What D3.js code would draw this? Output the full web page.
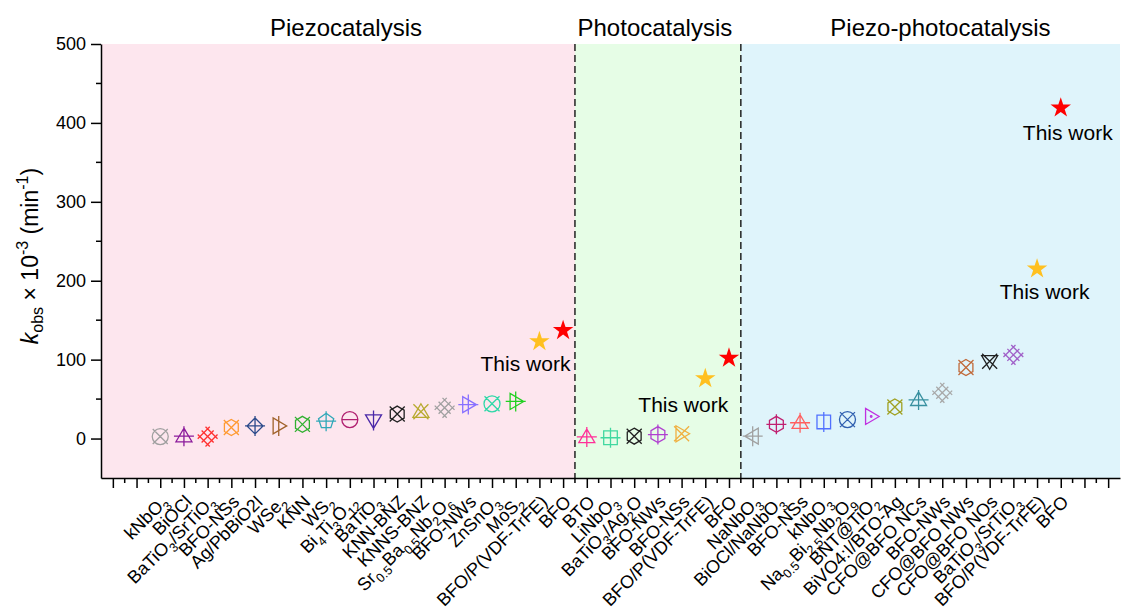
<!DOCTYPE html>
<html lang="en">
<head>
<meta charset="UTF-8">
<title>kobs comparison</title>
<style>
  body, html { margin: 0; background: #fff; overflow: hidden; }
  text { font-family: Arial, "Liberation Sans", sans-serif; fill: #000; }
</style>
</head>
<body>
<div id="chart"></div>
<script src="https://cdn.jsdelivr.net/npm/d3@7"></script>
<script>
// labels use _{..} for subscript
const categories = [
  "kNbO_{3}", "BiOCl", "BaTiO_{3}/SrTiO_{3}", "BFO-NSs", "Ag/PbBiO2I", "WSe_{2}", "KNN", "WS_{2}",
  "Bi_{4}Ti_{3}O_{12}", "BaTiO_{3}", "KNN-BNZ", "KNNS-BNZ", "Sr_{0.5}Ba_{0.5}Nb_{2}O_{6}", "BFO-NWs",
  "ZnSnO_{3}", "MoS_{2}", "BFO/P(VDF-TrFE)", "BFO",
  "BTO", "LiNbO_{3}", "BaTiO_{3}/Ag_{2}O", "BFO-NWs", "BFO-NSs", "BFO/P(VDF-TrFE)", "BFO",
  "NaNbO_{3}", "BiOCl/NaNbO_{3}", "BFO-NSs", "kNbO_{3}", "Na_{0.5}Bi_{2.5}Nb_{2}O_{9}", "BNT@TiO_{2}",
  "BiVO4:I/BTO-Ag", "CFO@BFO NCs", "BFO-NWs", "CFO@BFO NWs", "CFO@BFO NOs", "BaTiO_{3}/SrTiO_{3}",
  "BFO/P(VDF-TrFE)", "BFO"
];
const kobs = [
  2.5, 3, 2.5, 14, 16, 16, 18, 22, 24, 23, 31, 34, 39, 43, 44, 47, 123, 137,
  2, 1, 3, 5, 6, 76, 102,
  3, 18, 20, 21, 24, 28, 40, 49, 58, 90, 98, 106, 215, 419
];
const sections = ["Piezocatalysis", "Photocatalysis", "Piezo-photocatalysis"];
const sectionBounds = [-2.5, 17.5, 24.5, 40.5];
const yTicks = [0, 100, 200, 300, 400, 500];

// marker styles
const shapes = [
  "circle", "triangle", "grid", "hexagon", "diamond", "triR", "hexagon", "pentagon", "circle", "triD",
  "hexagon", "triangle", "grid", "triR", "circle", "triR", "star", "star",
  "triangle", "square", "hexagon", "hexagon", "triR", "star", "star",
  "triL", "hexagon", "triangle", "square", "circle", "triR", "hexagon", "triangle", "grid", "hexagon",
  "triD", "grid", "star", "star"
];
const inner = [
  "x", "+", "", "x", "+", "|", "x", "+", "-", "|", "x", "x", "", "+", "x", "+", "", "",
  "+", "+", "x", "+", "x", "", "",
  "+", "+", "+", "|", "x", "dot", "x", "+", "", "x", "x", "", "", ""
];
const colors = [
  "#a0a0a0", "#8b1a9b", "#ff3030", "#ff9a30", "#2b4a8a", "#a0622a", "#30b030", "#30a8b8", "#b02070", "#4a28a8",
  "#202020", "#b8aa30", "#a0a0a0", "#8870ff", "#30d8a8", "#20d020", "#ffc020", "#ff0000",
  "#ff3098", "#40d8a0", "#202020", "#b040d0", "#f0b040", "#ffc020", "#ff0000",
  "#a0a0a0", "#c02070", "#ff6060", "#5070ff", "#3060b0", "#c030e0", "#a0a020", "#3890a0", "#a8a8a8", "#c06838",
  "#202020", "#a060c8", "#ffc020", "#ff0000"
];
const bgColors = ["#fde6ee", "#e6fde6", "#dff4fb"];

const W = 1126, H = 609;
const margin = { top: 44, right: 6, bottom: 131, left: 101 };

const svg = d3.select("#chart").append("svg").attr("width", W).attr("height", H);

const x = d3.scaleLinear().domain([-2.5, 40.5]).range([margin.left, W - margin.right]);
const y = d3.scaleLinear().domain([-50, 500]).range([H - margin.bottom, margin.top]);

// section backgrounds
sections.forEach((s, i) => {
  svg.append("rect")
    .attr("x", x(sectionBounds[i])).attr("y", y(500))
    .attr("width", x(sectionBounds[i + 1]) - x(sectionBounds[i]))
    .attr("height", y(-50) - y(500))
    .attr("fill", bgColors[i]);
  svg.append("text")
    .attr("x", x((sectionBounds[i] + sectionBounds[i + 1]) / 2) + [8, -3, 10][i])
    .attr("y", 36)
    .attr("text-anchor", "middle")
    .attr("font-size", "24px")
    .text(s);
});

// dashed separators
sectionBounds.slice(1, 3).forEach(b => {
  svg.append("line")
    .attr("x1", x(b)).attr("x2", x(b))
    .attr("y1", y(500)).attr("y2", y(-50))
    .attr("stroke", "#222").attr("stroke-width", 1.5)
    .attr("stroke-dasharray", "7,4");
});

// y axis
const yAxis = svg.append("g").attr("transform", `translate(${margin.left},0)`)
  .call(d3.axisLeft(y).tickValues(yTicks).tickSize(10).tickSizeOuter(0).tickPadding(5));
yAxis.selectAll(".tick line").attr("stroke-width", 1.5);
yAxis.select(".domain").attr("stroke-width", 1.5);
yAxis.selectAll(".tick text").attr("font-size", "18px").attr("font-family", "Arial, 'Liberation Sans', sans-serif");
yAxis.selectAll(".minor").data([50, 150, 250, 350, 450]).enter().append("line")
  .attr("x1", -5).attr("x2", 0).attr("y1", d => y(d)).attr("y2", d => y(d))
  .attr("stroke", "#000").attr("stroke-width", 1.5);

// x axis
const xAxis = svg.append("g").attr("transform", `translate(0,${y(-50)})`)
  .call(d3.axisBottom(x).tickValues(d3.range(-2, 41)).tickSize(10).tickSizeOuter(0).tickFormat(""));
xAxis.selectAll(".tick line").attr("stroke-width", 1.5);
xAxis.select(".domain").attr("stroke-width", 1.5);
xAxis.selectAll(".minor").data(d3.range(-1.5, 40.5, 1)).enter().append("line")
  .attr("x1", d => x(d)).attr("x2", d => x(d)).attr("y1", 0).attr("y2", 5)
  .attr("stroke", "#000").attr("stroke-width", 1.5);

// rotated category labels with subscripts
function richText(sel, str, fs) {
  const parts = str.split(/(_\{[^}]*\})/).filter(p => p.length);
  let sub = false;
  parts.forEach(p => {
    if (p.startsWith("_{")) {
      sel.append("tspan").attr("font-size", fs * 0.7 + "px").attr("dy", fs * 0.3).text(p.slice(2, -1));
      sub = true;
    } else {
      sel.append("tspan").attr("dy", sub ? -fs * 0.3 : 0).text(p);
      sub = false;
    }
  });
  if (sub) sel.append("tspan").attr("dy", -fs * 0.3).text("\u200b");
}
categories.forEach((c, i) => {
  const t = svg.append("text")
    .attr("transform", `translate(${x(i) + 9},${y(-50) + 25}) rotate(-45)`)
    .attr("text-anchor", "end")
    .attr("font-size", "18px");
  richText(t, c, 18);
});

// markers
const r = 8;
function poly(n, rot) {
  const pts = d3.range(n).map(k => {
    const a = rot + k * 2 * Math.PI / n;
    return [r * Math.sin(a), -r * Math.cos(a)];
  });
  return "M" + pts.map(p => p.join(",")).join("L") + "Z";
}
function shapePath(s) {
  switch (s) {
    case "circle": return `M${r},0A${r},${r} 0 1 1 ${-r},0A${r},${r} 0 1 1 ${r},0Z`;
    case "triangle": return `M0,${-r}L${r},${r * 0.7}L${-r},${r * 0.7}Z`;
    case "triD": return `M0,${r}L${r},${-r * 0.7}L${-r},${-r * 0.7}Z`;
    case "triR": return `M${r},0L${-r * 0.7},${r}L${-r * 0.7},${-r}Z`;
    case "triL": return `M${-r},0L${r * 0.7},${r}L${r * 0.7},${-r}Z`;
    case "diamond": return `M0,${-r}L${r},0L0,${r}L${-r},0Z`;
    case "square": return `M${-r * 0.85},${-r * 0.85}H${r * 0.85}V${r * 0.85}H${-r * 0.85}Z`;
    case "pentagon": return poly(5, 0);
    case "hexagon": return poly(6, 0);
    case "grid": {
      const s2 = 5.5, e = 3;
      let d = "";
      [-s2, 0, s2].forEach(o => {
        const ax = (t) => [(t + o) / Math.SQRT2, (t - o) / Math.SQRT2];
        let a = ax(-s2 - e), b = ax(s2 + e);
        d += `M${a}L${b}`;
        const bx = (t) => [(o + t) / Math.SQRT2, (o - t) / Math.SQRT2];
        a = bx(-s2 - e); b = bx(s2 + e);
        d += `M${a}L${b}`;
      });
      return d;
    }
  }
  return "";
}
function innerPath(s) {
  const e = r + 2;
  switch (s) {
    case "x": return `M${-e * 0.75},${-e * 0.75}L${e * 0.75},${e * 0.75}M${e * 0.75},${-e * 0.75}L${-e * 0.75},${e * 0.75}`;
    case "+": return `M0,${-e}L0,${e}M${-e},0L${e},0`;
    case "|": return `M0,${-e}L0,${e}`;
    case "-": return `M${-r},0L${r},0`;
    case "dot": return "M-0.8,0a0.8,0.8 0 1 0 1.6,0a0.8,0.8 0 1 0 -1.6,0";
  }
  return "";
}

const pts = svg.append("g").selectAll("g").data(kobs).enter().append("g")
  .attr("transform", (d, i) => `translate(${x(i)},${y(d)})`);
pts.each(function (d, i) {
  const g = d3.select(this);
  if (shapes[i] === "star") {
    g.append("path").attr("d", d3.symbol(d3.symbolStar, 130)()).attr("fill", colors[i]);
    return;
  }
  g.append("path").attr("d", shapePath(shapes[i]) + innerPath(inner[i]))
    .attr("fill", "none").attr("stroke", colors[i]).attr("stroke-width", 1.3);
});

// "This work" annotations
const notes = [
  { i: 16, dx: 31, dy: 30, anchor: "end" },
  { i: 23, dx: -22, dy: 33, anchor: "middle" },
  { i: 38, dx: 7, dy: 32, anchor: "middle" },
  { i: 37, dx: 7.5, dy: 30, anchor: "middle" }
];
notes.forEach(n => {
  svg.append("text")
    .attr("x", x(n.i) + n.dx).attr("y", y(kobs[n.i]) + n.dy)
    .attr("text-anchor", n.anchor)
    .attr("font-size", "21px")
    .text("This work");
});

// y label
const yl = svg.append("text")
  .attr("transform", "translate(38,256) rotate(-90)")
  .attr("text-anchor", "middle")
  .attr("font-size", "23px");
yl.append("tspan").attr("font-style", "italic").text("k");
yl.append("tspan").attr("font-size", "16px").attr("dy", 5).text("obs");
yl.append("tspan").attr("dy", -5).text(" \u00d7 10");
yl.append("tspan").attr("font-size", "16px").attr("dy", -10).text("-3");
yl.append("tspan").attr("dy", 10).text(" (min");
yl.append("tspan").attr("font-size", "16px").attr("dy", -10).text("-1");
yl.append("tspan").attr("dy", 10).text(")");
</script>
</body>
</html>
